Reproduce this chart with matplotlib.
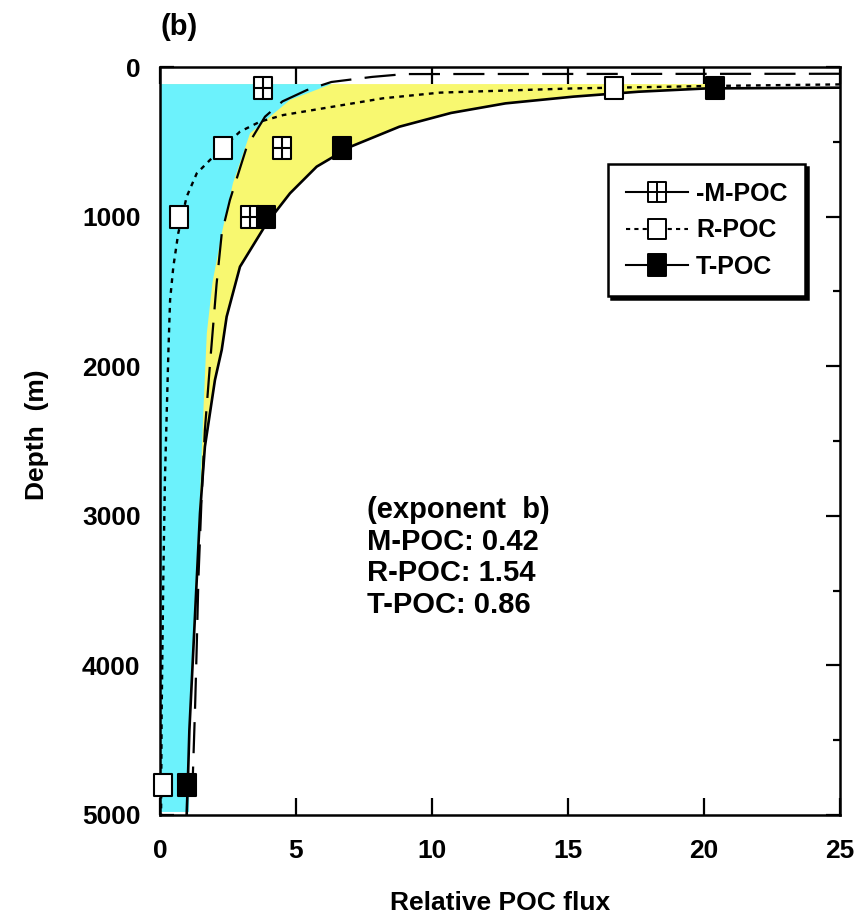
import matplotlib
matplotlib.use('Agg')
import matplotlib.pyplot as plt
from matplotlib.path import Path
from matplotlib.lines import Line2D
from matplotlib.ticker import MultipleLocator

plt.rcParams['font.family'] = ['Liberation Sans', 'DejaVu Sans']
plt.rcParams['font.weight'] = 'bold'

# --- data ---
# sample points (relative flux, depth m)
mpoc_x = [3.8, 4.5, 3.3]
mpoc_z = [140, 540, 1000]
rpoc_x = [16.7, 2.3, 0.7, 0.1]
rpoc_z = [140, 540, 1000, 4800]
tpoc_x = [20.4, 6.7, 3.9, 1.0]
tpoc_z = [140, 540, 1000, 4800]

# fitted curves (traced)
mfit_x = [25, 9.0, 7.8, 6.3, 5.4, 4.5, 3.86, 3.19, 2.57, 2.27, 2.08, 1.84, 1.65, 1.53, 1.41, 1.35, 1.29, 1.21]
mfit_z = [45, 47, 66, 100, 154, 230, 332, 533, 889, 1112, 1450, 1980, 2426, 2872, 3429, 3875, 4276, 4720]

rfit_x = [25, 20.1, 15.2, 10.3, 8.2, 6.36, 4.53, 3.68, 2.94, 2.08, 1.35, 0.98, 0.67, 0.49, 0.37, 0.31, 0.18, 0.12, 0.06, 0.04]
rfit_z = [116, 127, 143, 171, 209, 265, 321, 365, 432, 577, 711, 867, 1112, 1335, 1557, 1892, 2760, 3429, 4320, 5000]

tfit_x = [25, 20.1, 17.6, 15.2, 12.7, 10.7, 8.8, 7.0, 5.76, 4.78, 3.92, 2.94, 2.45, 2.27, 2.02, 1.65, 1.47, 1.35, 1.23, 1.08, 1.02, 0.98]
tfit_z = [138, 143, 165, 198, 243, 307, 399, 533, 666, 844, 1045, 1335, 1669, 1890, 2092, 2538, 2983, 3429, 3875, 4432, 4800, 5000]

# shaded areas
fill_top = 114
cyan_x = [6.3, 4.78, 3.31, 2.68, 2.27, 1.93, 1.72, 1.59, 1.47, 1.29, 1.17, 1.06, 1.07]
cyan_z = [114, 220, 443, 777, 1112, 1440, 1780, 2316, 2872, 3540, 3985, 4432, 4980]

exponents = {'M-POC': 0.42, 'R-POC': 1.54, 'T-POC': 0.86}

# --- markers: rectangles (slightly taller than wide) ---
M, L, C = Path.MOVETO, Path.LINETO, Path.CLOSEPOLY
box_v = [(-0.41, -0.5), (0.41, -0.5), (0.41, 0.5), (-0.41, 0.5), (-0.41, -0.5)]
box_c = [M, L, L, L, C]
box = Path(box_v, box_c)
crossbox = Path(box_v + [(0, -0.5), (0, 0.5), (-0.41, 0), (0.41, 0)], box_c + [M, L, M, L])

fig = plt.figure(figsize=(8.64, 9.22), dpi=100)
ax = fig.add_axes([0.1852, 0.1161, 0.7870, 0.8112])

# yellow band, cyan over it
yx = [0, 20.1] + tfit_x[1:-1] + [0]
yz = [fill_top, fill_top] + tfit_z[1:-1] + [tfit_z[-2]]
ax.fill(yx, yz, color='#f8f870', lw=0, zorder=1)
ax.fill([0] + cyan_x + [0], [fill_top] + cyan_z + [4980], color='#6cf2fc', lw=0, zorder=2)

ax.plot(mfit_x, mfit_z, color='k', lw=1.6, ls=(0, (14, 6)), zorder=3)
ax.plot(rfit_x, rfit_z, color='k', lw=1.7, ls=(0, (2, 2.2)), zorder=3)
ax.plot(tfit_x, tfit_z, color='k', lw=1.9, zorder=3)

ms = 15.5
ax.plot(mpoc_x, mpoc_z, ls='none', marker=crossbox, ms=ms, mfc='white', mec='k', mew=1.5, clip_on=False, zorder=5)
ax.plot(rpoc_x, rpoc_z, ls='none', marker=box, ms=ms, mfc='white', mec='k', mew=1.5, clip_on=False, zorder=5)
ax.plot(tpoc_x, tpoc_z, ls='none', marker=box, ms=ms, mfc='k', mec='k', mew=1.5, clip_on=False, zorder=5)

ax.set_xlim(0, 25)
ax.set_ylim(5000, 0)
ax.xaxis.set_major_locator(MultipleLocator(5))
ax.yaxis.set_major_locator(MultipleLocator(1000))
ax.yaxis.set_minor_locator(MultipleLocator(500))
ax.tick_params(axis='x', which='major', direction='in', top=True, length=12, width=1.6, pad=17, labelsize=19)
ax.tick_params(axis='y', which='major', direction='in', right=True, length=10, width=1.6, pad=14, labelsize=19)
ax.tick_params(axis='y', which='minor', direction='in', right=True, length=5, width=1.6)
for s in ax.spines.values():
    s.set_linewidth(1.8)

ax.set_xlabel('Relative POC flux', fontsize=19, fontweight='bold')
ax.xaxis.set_label_coords(0.5, -0.102)
ax.set_ylabel('Depth  (m)', fontsize=19, fontweight='bold')
ax.yaxis.set_label_coords(-0.163, 0.509)

ax.text(0.0, 1.035, '(b)', transform=ax.transAxes, fontsize=21, fontweight='bold', va='bottom', ha='left')

txt = '(exponent  b)\n' + '\n'.join(f'{k}: {v:.2f}' for k, v in exponents.items())
ax.text(7.6, 2870, txt, fontsize=21, fontweight='bold', va='top', ha='left', linespacing=1.16, zorder=6)

handles = [
    Line2D([], [], color='k', lw=1.5, marker=crossbox, ms=15, mfc='white', mec='k', mew=1.4),
    Line2D([], [], color='k', lw=1.5, ls=(0, (2, 2)), marker=box, ms=15, mfc='white', mec='k', mew=1.4),
    Line2D([], [], color='k', lw=1.5, marker=box, ms=16, mfc='k', mec='k', mew=1.4),
]
leg = ax.legend(handles, ['-M-POC', 'R-POC', 'T-POC'], loc='upper right',
                bbox_to_anchor=(0.9485, 0.870), borderaxespad=0, fancybox=False,
                edgecolor='k', framealpha=1, handlelength=2.5, handletextpad=0.3,
                labelspacing=0.5, borderpad=0.7,
                prop={'size': 18, 'weight': 'bold'},
                shadow={'facecolor': 'black', 'edgecolor': 'black', 'alpha': 1})
leg.get_frame().set_linewidth(1.8)
leg.set_zorder(7)

fig.savefig('out.png', dpi=100)
